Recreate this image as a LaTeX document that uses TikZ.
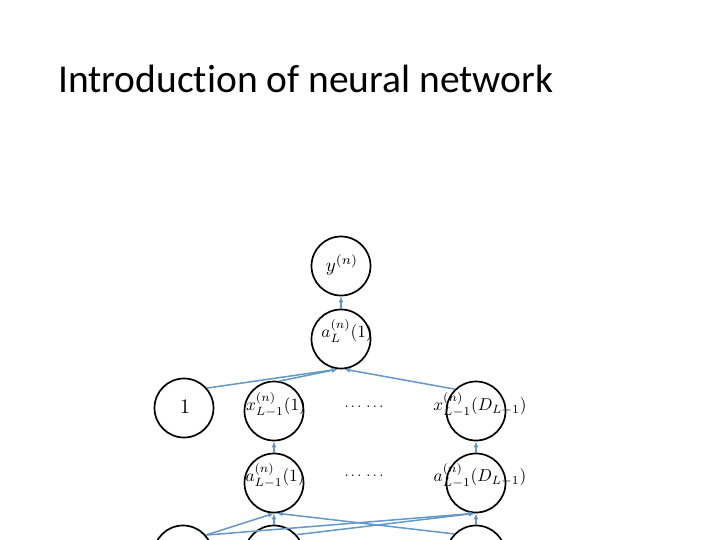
\documentclass[tikz,border=0pt]{standalone}
\usepackage{fontspec}
\newfontfamily\titlefont[Ligatures=NoCommon]{Carlito}
\usetikzlibrary{arrows.meta}
\definecolor{arrowblue}{HTML}{6498C9}
\begin{document}
\begin{tikzpicture}[x=1pt,y=-1pt,
  neuron/.style={circle,draw=black,line width=1.7pt,minimum size=59pt,inner sep=0pt},
  lbl/.style={inner sep=0pt,scale=1.72,transform shape},
  conn/.style={draw=arrowblue,line width=1.5pt,-{Latex[length=6pt,width=5pt]}}]
\useasboundingbox[fill=white] (0,0) rectangle (720,540);
\node[anchor=base west,inner sep=0pt,font=\titlefont\fontsize{39.5}{44}\selectfont] (title) at (58,93) {Introduction of neural network};
% neurons
\node[neuron] (y) at (341,266) {};
\node[neuron] (aL) at (341,339) {};
\node[neuron] (one) at (184,408) {};
\node[neuron] (x1) at (274,411) {};
\node[neuron] (xD) at (476,411) {};
\node[neuron] (a1) at (274,483) {};
\node[neuron] (aD) at (476,483) {};
\node[neuron] (b1) at (183,555) {};
\node[neuron] (b2) at (274,555) {};
\node[neuron] (b3) at (476,555) {};
% labels
\node[lbl,scale=1.1] (ty) at (342,265) {$y^{(n)}$};
\node[lbl] (taL) at (347,331) {$a_L^{(n)}(1)$};
\node[lbl,scale=1.2] (tone) at (185,407) {$1$};
\node[lbl] (tx1) at (276,405) {$x_{L-1}^{(n)}(1)$};
\node[lbl] (txD) at (480,405) {$x_{L-1}^{(n)}(D_{L-1})$};
\node[lbl] (ta1) at (275,476) {$a_{L-1}^{(n)}(1)$};
\node[lbl] (taD) at (480,476) {$a_{L-1}^{(n)}(D_{L-1})$};
\node[lbl,scale=0.85] (dots1) at (364,407) {$\ldots\,\ldots$};
\node[lbl,scale=0.85] (dots2) at (364,476) {$\ldots\,\ldots$};
% connectors
\draw[conn] (aL) -- (y);
\draw[conn] (one.41) -- (aL.-96);
\draw[conn] (x1.80) -- (aL.-96);
\draw[conn] (xD.134) -- (aL.-84);
\draw[conn] (a1) -- (x1);
\draw[conn] (aD) -- (xD);
\draw[conn] (b1.41) -- (a1.-90);
\draw[conn] (b1.41) -- (aD.-92);
\draw[conn] (b2) -- (a1);
\draw[conn] (b2.42) -- (aD.-92);
\draw[conn] (b3.136) -- (a1.-85);
\draw[conn] (b3) -- (aD);
\end{tikzpicture}
\end{document}
